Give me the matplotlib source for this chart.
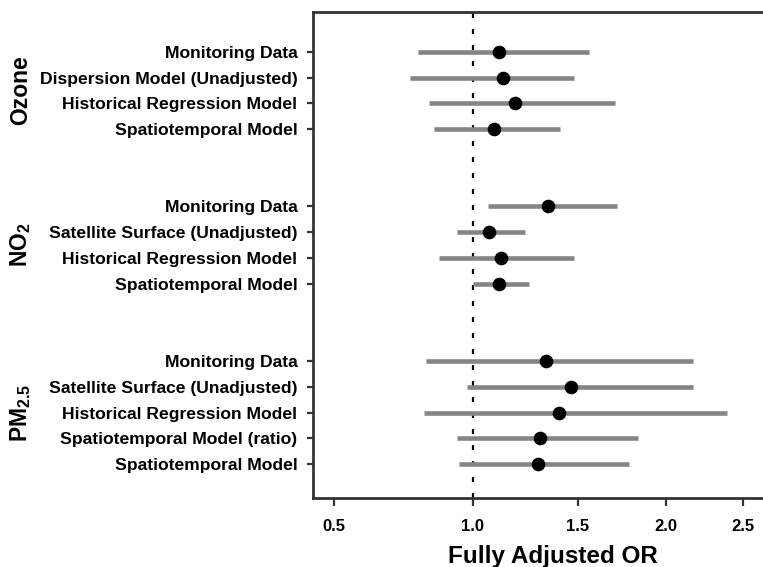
import numpy as np
import matplotlib
matplotlib.use("Agg")
import matplotlib.pyplot as plt

plt.rcParams['font.family'] = ['Liberation Sans', 'DejaVu Sans']
plt.rcParams['mathtext.default'] = 'regular'

# ---------------- data ----------------
ozone_labels = ["Monitoring Data", "Dispersion Model (Unadjusted)",
                "Historical Regression Model", "Spatiotemporal Model"]
ozone_or = [1.115, 1.135, 1.187, 1.093]
ozone_lo = [0.782, 0.751, 0.823, 0.842]
ozone_hi = [1.561, 1.480, 1.703, 1.406]

no2_labels = ["Monitoring Data", "Satellite Surface (Unadjusted)",
              "Historical Regression Model", "Spatiotemporal Model"]
no2_or = [1.349, 1.072, 1.123, 1.114]
no2_lo = [1.068, 0.935, 0.862, 1.000]
no2_hi = [1.712, 1.236, 1.480, 1.253]

pm_labels = ["Monitoring Data", "Satellite Surface (Unadjusted)",
             "Historical Regression Model", "Spatiotemporal Model (ratio)",
             "Spatiotemporal Model"]
pm_or = [1.338, 1.463, 1.401, 1.308, 1.297]
pm_lo = [0.811, 0.975, 0.803, 0.935, 0.944]
pm_hi = [2.172, 2.172, 2.390, 1.834, 1.784]

group_names = ["Ozone", "NO$_2$", "PM$_{2.5}$"]
x_ticks = [0.5, 1.0, 1.5, 2.0, 2.5]
x_ticklabels = ["0.5", "1.0", "1.5", "2.0", "2.5"]

# ---------------- layout ----------------
W, H = 763, 567
fig = plt.figure(figsize=(W / 100, H / 100), dpi=100)
ax = fig.add_axes([312.7 / W, 1 - 498 / H, (763 - 312.7) / W, (498 - 12.3) / H])

P = 0.48
ax.set_xscale('function', functions=(lambda x: np.power(np.clip(x, 1e-9, None), P),
                                     lambda y: np.power(np.clip(y, 1e-9, None), 1 / P)))

groups = [(ozone_labels, ozone_or, ozone_lo, ozone_hi, 0),
          (no2_labels, no2_or, no2_lo, no2_hi, 6),
          (pm_labels, pm_or, pm_lo, pm_hi, 12)]

all_pos, all_labels, centers = [], [], []
for labels, est, lo, hi, start in groups:
    pos = np.arange(len(labels)) + start
    ax.hlines(pos, lo, hi, color='#858585', lw=3.3, zorder=2)
    ax.plot(est, pos, 'o', color='black', markersize=8.8, zorder=3)
    all_pos.extend(pos)
    all_labels.extend(labels)
    centers.append(pos.mean())

ax.axvline(1.0, color='black', lw=1.6, linestyle=(0, (2.2, 5.0)), zorder=1)

ax.set_xlim(0.438, 2.64)
ax.set_ylim(16 + 1.31, -1.53)

ax.set_yticks(all_pos)
ax.set_yticklabels(all_labels, fontsize=12.6, fontweight='bold')
ax.set_xticks(x_ticks)
ax.set_xticklabels(x_ticklabels, fontsize=12, fontweight='bold')
ax.xaxis.set_minor_locator(matplotlib.ticker.NullLocator())

for s in ['left', 'bottom', 'top']:
    ax.spines[s].set_linewidth(2.0)
    ax.spines[s].set_color('#333333')
ax.spines['right'].set_visible(False)

ax.tick_params(axis='y', length=4, width=1.6, color='#333333', pad=7)
ax.tick_params(axis='x', length=6, width=1.6, color='#333333', pad=9)

fig.text(553 / W, 1 - 556 / H, "Fully Adjusted OR", ha='center', va='center',
         fontsize=17.5, fontweight='bold')

def row_to_fig(r):
    y0, y1 = ax.get_ylim()
    frac = (r - y0) / (y1 - y0)
    b = ax.get_position()
    return b.y0 + frac * b.height

for name, c in zip(group_names, centers):
    fig.text(21 / W, row_to_fig(c), name, rotation=90, ha='center', va='center',
             fontsize=16.5, fontweight='bold')

fig.savefig("out.png", dpi=100)
